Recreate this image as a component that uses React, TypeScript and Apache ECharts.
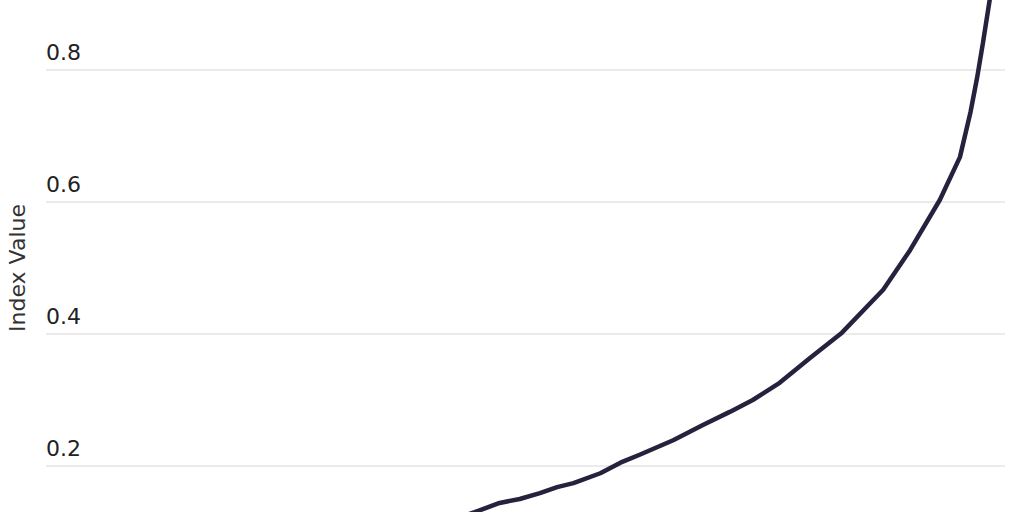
import React, { useEffect, useRef } from "react";
import * as echarts from "echarts";

// Position along the (hidden) x axis, 0–100
const xValues: number[] = [
  41.1, 44.7, 47.3, 49.4, 51.5, 53.3, 55.0, 57.8, 59.9, 61.9, 65.4, 68.5, 71.3,
  73.7, 76.5, 79.7, 83.0, 87.3, 90.1, 93.2, 95.3, 96.4, 97.1, 97.7, 98.4, 99.0,
];
// Index values
const indexValues: number[] = [
  0.112, 0.13, 0.144, 0.15, 0.159, 0.168, 0.174, 0.189, 0.205, 0.217, 0.239,
  0.262, 0.282, 0.3, 0.326, 0.364, 0.402, 0.467, 0.527, 0.603, 0.668, 0.736,
  0.789, 0.841, 0.906, 0.952,
];
const yTicks = { min: 0, max: 1, interval: 0.2 };
const yAxisName = "Index Value";

export default function App() {
  const ref = useRef<HTMLDivElement>(null);
  useEffect(() => {
    document.body.style.margin = "0";
    document.body.style.overflow = "hidden";
    document.documentElement.style.overflow = "hidden";
    if (!ref.current) return;
    const chart = echarts.init(ref.current, null, { renderer: "svg" });
    const data = xValues.map((x, i) => [x, indexValues[i]]);
    chart.setOption({
      animation: false,
      backgroundColor: "#ffffff",
      textStyle: { fontFamily: "DejaVu Sans" },
      grid: {
        left: 46,
        right: 19,
        top: 0,
        bottom: 0,
        containLabel: false,
        outerBoundsMode: "none",
      },
      xAxis: {
        type: "value",
        min: 0,
        max: 100,
        show: false,
      },
      yAxis: {
        type: "value",
        min: yTicks.min,
        max: yTicks.max,
        interval: yTicks.interval,
        name: yAxisName,
        nameLocation: "middle",
        nameRotate: 90,
        nameGap: 18,
        nameTextStyle: { fontSize: 22, color: "#333333", fontFamily: "DejaVu Sans" },
        axisLine: { show: false },
        axisTick: { show: false },
        axisLabel: {
          inside: true,
          margin: 0,
          verticalAlign: "bottom",
          padding: [0, 0, 7, 0],
          fontSize: 22,
          color: "#222222",
          fontFamily: "DejaVu Sans",
          showMinLabel: false,
          showMaxLabel: false,
          formatter: (v: number) => v.toFixed(1),
        },
        splitLine: { lineStyle: { color: "#e5e5e5", width: 1.5 } },
      },
      series: [
        {
          type: "line",
          data,
          showSymbol: false,
          symbol: "none",
          lineStyle: { color: "#27213e", width: 4.5 },
        },
      ],
    });
    return () => chart.dispose();
  }, []);
  return (
    <div
      ref={ref}
      style={{ position: "absolute", left: 0, top: -62, width: 1024, height: 660 }}
    />
  );
}
